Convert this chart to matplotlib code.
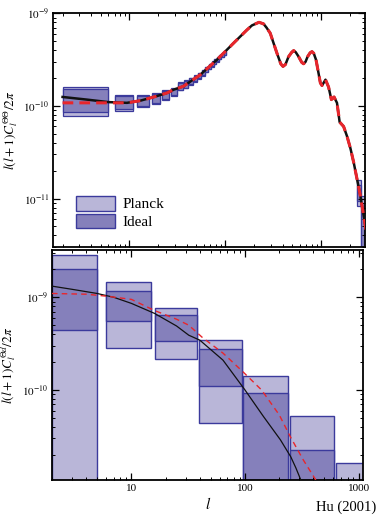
import numpy as np
import matplotlib
matplotlib.use("Agg")
import matplotlib.pyplot as plt
from matplotlib.patches import Patch
from matplotlib.ticker import LogLocator, NullFormatter, FixedLocator, FixedFormatter

plt.rcParams['font.family'] = 'serif'
plt.rcParams['font.serif'] = ['Liberation Serif', 'DejaVu Serif']
plt.rcParams['mathtext.fontset'] = 'stix'

# ---- top panel: temperature power spectrum ----
ell_top = [2, 3.6, 6, 9.4, 13, 19, 24.6, 29, 36.6, 54.8, 81.9, 122, 168, 190, 225,
           251, 270, 295, 347, 380, 401, 425, 458, 495, 518, 545, 584, 630, 658, 690,
           724, 770, 805, 840, 887, 985, 1024, 1114, 1200, 1283, 1369, 1468, 1528,
           1565, 1722, 1870, 2027, 2197, 2418, 2577, 2790, 2970]
cl_red = [1.08e-10, 1.08e-10, 1.08e-10, 1.08e-10, 1.14e-10, 1.27e-10, 1.38e-10, 1.5e-10,
          1.63e-10, 2.17e-10, 3.15e-10, 4.76e-10, 6.6e-10, 7.4e-10, 8.0e-10, 7.7e-10,
          7.0e-10, 6.1e-10, 3.7e-10, 2.85e-10, 2.67e-10, 2.8e-10, 3.4e-10, 3.8e-10,
          3.96e-10, 3.8e-10, 3.4e-10, 2.95e-10, 2.85e-10, 3.0e-10, 3.4e-10, 3.75e-10,
          3.86e-10, 3.7e-10, 3.15e-10, 1.77e-10, 1.66e-10, 1.92e-10, 1.6e-10, 1.17e-10,
          1.25e-10, 1.08e-10, 8.05e-11, 6.7e-11, 6.0e-11, 4.7e-11, 3.5e-11, 2.44e-11,
          1.49e-11, 1.07e-11, 6.5e-12, 4.4e-12]
cl_black = [1.25e-10, 1.17e-10, 1.1e-10, 1.08e-10] + cl_red[4:]

# bins: Planck (light) and ideal (dark) boxes, in units of 1e-10
tbin_lo = [2, 7, 12, 17, 22, 27, 32, 37, 42, 47, 52, 57, 62, 67, 72, 77, 82, 87, 92, 97,
           2350, 2600]
tbin_hi = [6, 11, 16, 21, 26, 31, 36, 41, 46, 51, 56, 61, 66, 71, 76, 81, 86, 91, 96, 101,
           2600, 2900]
tplanck_lo = [0.787, 0.89, 0.97, 1.05, 1.17, 1.27, 1.47, 1.56, 1.69, 1.82, 1.97, 2.13, 2.31,
              2.49, 2.66, 2.84, 3.01, 3.19, 3.36, 3.54, 0.083, 0.001]
tplanck_hi = [1.60, 1.31, 1.31, 1.38, 1.47, 1.57, 1.82, 1.89, 2.01, 2.14, 2.29, 2.47, 2.65,
              2.84, 3.02, 3.20, 3.39, 3.57, 3.76, 3.94, 0.16, 0.107]
tideal_lo = [0.85, 0.92, 1.00, 1.08, 1.20, 1.30, 1.50, 1.58, 1.71, 1.84, 1.99, 2.15, 2.33,
             2.51, 2.68, 2.86, 3.03, 3.21, 3.38, 3.56, 0.095, 0.03]
tideal_hi = [1.53, 1.27, 1.28, 1.35, 1.44, 1.54, 1.79, 1.87, 1.99, 2.12, 2.27, 2.45, 2.63,
             2.82, 3.00, 3.18, 3.37, 3.55, 3.74, 3.92, 0.14, 0.09]
TSCALE = 1e-10

# ---- bottom panel: cross spectrum ----
ell_bot_black = [2, 3, 5, 7, 10, 16, 25, 32, 40, 64, 100, 145, 205, 253, 280, 310]
cl_bot_black = [1.32e-9, 1.22e-9, 1.1e-9, 1.0e-9, 8.6e-10, 6.7e-10, 4.9e-10, 3.9e-10,
                3.45e-10, 2.1e-10, 1.0e-10, 5.2e-11, 2.9e-11, 1.9e-11, 1.45e-11, 1.07e-11]
ell_bot_red = [2, 4, 6, 10, 16, 25, 32, 42, 64, 96, 140, 200, 250, 325, 420]
cl_bot_red = [1.1e-9, 1.08e-9, 1.03e-9, 9.5e-10, 7.2e-10, 5.8e-10, 5.0e-10, 3.7e-10,
              2.5e-10, 1.57e-10, 1.0e-10, 5.4e-11, 3.15e-11, 1.77e-11, 1.07e-11]

bbin_lo = [2, 6, 16, 39, 96, 250, 630]
bbin_hi = [5, 15, 38, 94, 240, 610, 1600]
bplanck_lo = [1e-13, 2.83e-10, 2.15e-10, 4.45e-11, 1e-13, 1e-13, 1e-13]
bplanck_hi = [2.83e-9, 1.46e-9, 7.7e-10, 3.45e-10, 1.43e-10, 5.2e-11, 1.63e-11]
bideal_lo = [4.4e-10, 5.6e-10, 3.34e-10, 1.1e-10, 1e-13, 1e-13, 1e-13]
bideal_hi = [2.0e-9, 1.17e-9, 6.45e-10, 2.78e-10, 9.2e-11, 2.27e-11, 8e-12]

light = '#b9b6d8'
dark = '#8580bb'
edge = '#3b3a9c'
red = '#e8262c'


def draw_boxes(ax, lo_edge, hi_edge, lo, hi, color, lw):
    lo_edge = np.array(lo_edge, dtype=float)
    hi_edge = np.array(hi_edge, dtype=float)
    lo = np.array(lo, dtype=float)
    hi = np.array(hi, dtype=float)
    ax.bar(lo_edge, hi - lo, bottom=lo, width=hi_edge - lo_edge, align='edge',
           color=color, edgecolor=edge, linewidth=lw)


def style_axis(ax):
    ax.set_xscale('log')
    ax.set_yscale('log')
    ax.tick_params(which='both', direction='in', top=True, right=True)
    ax.tick_params(which='major', length=5, width=0.9, labelsize=8, pad=3)
    ax.tick_params(which='minor', length=2.5, width=0.7)
    ax.yaxis.set_minor_locator(LogLocator(base=10, subs=np.arange(2, 10)))
    ax.yaxis.set_minor_formatter(NullFormatter())
    ax.xaxis.set_minor_locator(LogLocator(base=10, subs=np.arange(2, 10)))
    ax.xaxis.set_minor_formatter(NullFormatter())
    for s in ax.spines.values():
        s.set_linewidth(1.3)


fig = plt.figure(figsize=(3.79, 5.18), dpi=100)

ax1 = fig.add_axes([0.1406, 0.5232, 0.8232, 0.4511])
style_axis(ax1)
draw_boxes(ax1, tbin_lo, tbin_hi, np.array(tplanck_lo) * TSCALE,
           np.array(tplanck_hi) * TSCALE, light, 0.9)
draw_boxes(ax1, tbin_lo, tbin_hi, np.array(tideal_lo) * TSCALE,
           np.array(tideal_hi) * TSCALE, dark, 0.9)
ax1.plot(ell_top, cl_black, color='#111111', lw=1.8, zorder=3)
ax1.plot(ell_top, cl_red, color=red, lw=2.2, dashes=(3.5, 2), zorder=4)
ax1.set_xlim(1.6, 2900)
ax1.set_ylim(3e-12, 1e-9)
ax1.yaxis.set_major_locator(FixedLocator([1e-11, 1e-10, 1e-9]))
ax1.set_yticklabels([r'$10^{-11}$', r'$10^{-10}$', r'$10^{-9}$'])
ax1.xaxis.set_major_locator(FixedLocator([10, 100, 1000]))
ax1.set_xticklabels([])
ax1.set_ylabel(r'$l(l+1)C_l^{\Theta\Theta}/2\pi$', fontsize=9.5)
ax1.yaxis.set_label_coords(-0.108, 0.5)

handles = [Patch(facecolor=light, edgecolor=edge, linewidth=1.0),
           Patch(facecolor=dark, edgecolor=edge, linewidth=1.0)]
ax1.legend(handles, ['Planck', 'Ideal'], loc='lower left', bbox_to_anchor=(0.04, 0.03),
           frameon=False, fontsize=11, handlelength=2.5, handleheight=1.1,
           labelspacing=0.15, handletextpad=0.5, borderpad=0.2)

ax2 = fig.add_axes([0.1372, 0.0734, 0.8214, 0.444])
style_axis(ax2)
draw_boxes(ax2, bbin_lo, bbin_hi, bplanck_lo, bplanck_hi, light, 1.0)
draw_boxes(ax2, bbin_lo, bbin_hi, bideal_lo, bideal_hi, dark, 1.0)
ax2.plot(ell_bot_black, cl_bot_black, color='#111111', lw=0.9, zorder=3)
ax2.plot(ell_bot_red, cl_bot_red, color=red, lw=1.0, dashes=(4, 3), zorder=4)
ax2.set_xlim(2, 1100)
ax2.set_ylim(1.07e-11, 3.24e-9)
ax2.yaxis.set_major_locator(FixedLocator([1e-10, 1e-9]))
ax2.set_yticklabels([r'$10^{-10}$', r'$10^{-9}$'])
ax2.xaxis.set_major_locator(FixedLocator([10, 100, 1000]))
ax2.xaxis.set_major_formatter(FixedFormatter(['10', '100', '1000']))
ax2.set_ylabel(r'$l(l+1)C_l^{\Theta d}/2\pi$', fontsize=9.5)
ax2.yaxis.set_label_coords(-0.108, 0.5)
ax2.set_xlabel(r'$l$', fontsize=11, labelpad=2)

fig.text(0.992, 0.008, 'Hu (2001)', ha='right', va='bottom', fontsize=10.5)

fig.savefig('out.png', dpi=100)
